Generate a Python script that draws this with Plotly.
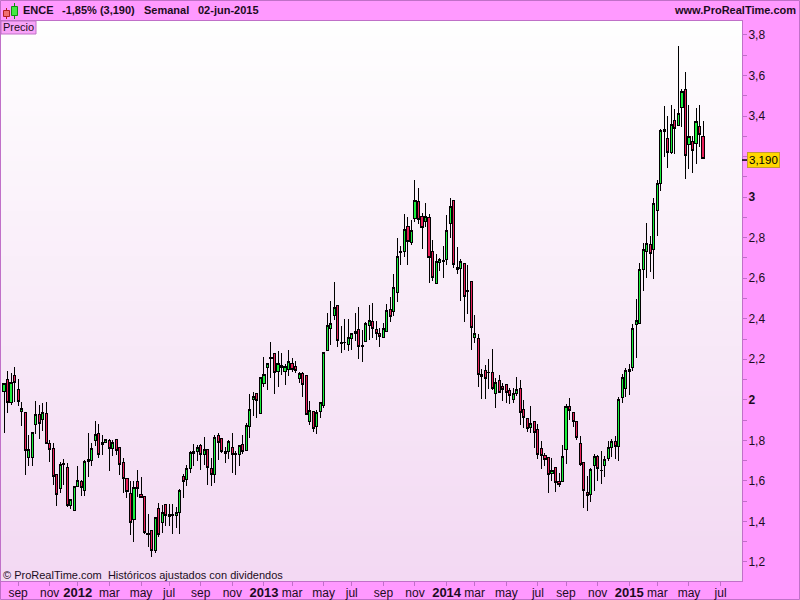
import pandas as pd
import plotly.graph_objects as go

# semanal, un lunes por vela
first_week = "2011-08-08"
n_weeks = 200

opens = [
    2.041, 2.102, 1.986, 2.121, 2.052, 1.942, 1.939, 1.715, 1.715, 1.878,
    1.929, 1.903, 1.934, 1.786, 1.761, 1.633, 1.562, 1.680, 1.667, 1.478,
    1.453, 1.572, 1.597, 1.552, 1.695, 1.699, 1.799, 1.835, 1.779, 1.789,
    1.797, 1.759, 1.802, 1.766, 1.692, 1.613, 1.536, 1.409, 1.598, 1.534,
    1.521, 1.342, 1.356, 1.256, 1.465, 1.394, 1.485, 1.435, 1.434, 1.429,
    1.444, 1.620, 1.608, 1.661, 1.736, 1.744, 1.777, 1.731, 1.756, 1.662,
    1.632, 1.825, 1.807, 1.743, 1.744, 1.764, 1.731, 1.731, 1.780, 1.749,
    1.867, 2.001, 2.032, 1.933, 2.080, 2.158, 2.210, 2.229, 2.139, 2.160,
    2.139, 2.152, 2.180, 2.165, 2.104, 2.131, 2.119, 1.892, 1.943, 1.867,
    1.941, 1.973, 2.242, 2.351, 2.415, 2.466, 2.284, 2.282, 2.272, 2.302,
    2.326, 2.348, 2.269, 2.287, 2.366, 2.387, 2.349, 2.328, 2.307, 2.339,
    2.446, 2.435, 2.529, 2.733, 2.731, 2.856, 2.775, 2.894, 2.979, 2.905,
    2.879, 2.900, 2.733, 2.573, 2.678, 2.688, 2.691, 2.871, 2.984, 2.655,
    2.649, 2.673, 2.540, 2.585, 2.307, 2.303, 2.114, 2.145, 2.137, 2.135,
    2.032, 2.096, 2.066, 2.076, 2.047, 2.000, 2.033, 2.057, 1.954, 1.909,
    1.863, 1.894, 1.855, 1.758, 1.727, 1.717, 1.636, 1.667, 1.598, 1.598,
    1.756, 1.968, 1.939, 1.891, 1.786, 1.692, 1.544, 1.534, 1.676, 1.722,
    1.651, 1.676, 1.710, 1.764, 1.794, 1.769, 2.012, 2.055, 2.139, 2.160,
    2.371, 2.376, 2.644, 2.731, 2.767, 2.743, 2.933, 3.068, 3.335, 3.290,
    3.220, 3.379, 3.353, 3.442, 3.532, 3.259, 3.274, 3.266, 3.348, 3.300,
]
highs = [
    2.082, 2.143, 2.131, 2.161, 2.103, 1.991, 1.941, 1.827, 1.842, 1.993,
    1.975, 1.986, 1.988, 1.802, 1.786, 1.635, 1.695, 1.707, 1.687, 1.508,
    1.576, 1.674, 1.603, 1.704, 1.835, 1.786, 1.896, 1.879, 1.827, 1.807,
    1.809, 1.802, 1.804, 1.768, 1.715, 1.615, 1.597, 1.597, 1.654, 1.618,
    1.523, 1.435, 1.358, 1.424, 1.493, 1.481, 1.487, 1.485, 1.485, 1.470,
    1.559, 1.633, 1.679, 1.745, 1.782, 1.777, 1.782, 1.815, 1.758, 1.711,
    1.826, 1.835, 1.810, 1.766, 1.802, 1.835, 1.747, 1.777, 1.826, 1.887,
    2.027, 2.040, 2.034, 2.113, 2.210, 2.183, 2.284, 2.231, 2.241, 2.229,
    2.177, 2.246, 2.205, 2.191, 2.139, 2.135, 2.121, 1.994, 1.945, 1.950,
    1.991, 2.236, 2.427, 2.489, 2.580, 2.468, 2.364, 2.397, 2.397, 2.330,
    2.427, 2.460, 2.344, 2.386, 2.468, 2.476, 2.389, 2.353, 2.377, 2.471,
    2.509, 2.621, 2.797, 2.759, 2.915, 2.904, 2.887, 3.085, 3.044, 2.920,
    2.969, 2.915, 2.789, 2.719, 2.698, 2.759, 2.912, 2.994, 2.986, 2.752,
    2.693, 2.675, 2.665, 2.587, 2.418, 2.325, 2.152, 2.172, 2.201, 2.251,
    2.106, 2.122, 2.081, 2.078, 2.057, 2.057, 2.111, 2.098, 1.998, 1.911,
    1.967, 1.896, 1.879, 1.797, 1.736, 1.719, 1.712, 1.669, 1.638, 1.778,
    1.980, 2.009, 1.942, 1.896, 1.822, 1.695, 1.625, 1.662, 1.731, 1.728,
    1.748, 1.723, 1.797, 1.805, 1.822, 2.015, 2.127, 2.155, 2.177, 2.374,
    2.497, 2.673, 2.772, 2.871, 2.808, 2.994, 3.085, 3.335, 3.450, 3.401,
    3.455, 3.433, 3.748, 3.532, 3.616, 3.455, 3.302, 3.438, 3.455, 3.378,
]
lows = [
    1.838, 1.937, 1.975, 1.991, 1.967, 1.873, 1.629, 1.671, 1.671, 1.832,
    1.807, 1.848, 1.782, 1.695, 1.580, 1.478, 1.539, 1.580, 1.473, 1.462,
    1.451, 1.569, 1.523, 1.523, 1.621, 1.671, 1.773, 1.715, 1.728, 1.786,
    1.649, 1.723, 1.728, 1.629, 1.539, 1.514, 1.333, 1.300, 1.519, 1.515,
    1.338, 1.276, 1.226, 1.243, 1.325, 1.342, 1.375, 1.375, 1.338, 1.366,
    1.338, 1.518, 1.575, 1.638, 1.673, 1.700, 1.654, 1.678, 1.580, 1.575,
    1.588, 1.703, 1.736, 1.687, 1.708, 1.637, 1.629, 1.675, 1.731, 1.747,
    1.813, 1.922, 1.908, 1.931, 2.065, 2.048, 2.106, 2.029, 2.065, 2.122,
    2.073, 2.117, 2.139, 2.131, 2.081, 2.015, 1.923, 1.876, 1.843, 1.831,
    1.912, 1.961, 2.240, 2.270, 2.394, 2.262, 2.233, 2.246, 2.242, 2.246,
    2.292, 2.200, 2.186, 2.285, 2.295, 2.303, 2.295, 2.262, 2.303, 2.333,
    2.385, 2.413, 2.484, 2.665, 2.706, 2.665, 2.764, 2.879, 2.868, 2.744,
    2.854, 2.575, 2.588, 2.571, 2.637, 2.599, 2.665, 2.800, 2.652, 2.621,
    2.489, 2.385, 2.423, 2.246, 2.279, 2.065, 2.004, 2.004, 2.053, 2.048,
    1.961, 2.033, 1.996, 1.986, 1.979, 1.986, 2.021, 1.876, 1.860, 1.843,
    1.838, 1.764, 1.707, 1.661, 1.674, 1.542, 1.597, 1.547, 1.569, 1.596,
    1.684, 1.901, 1.868, 1.802, 1.671, 1.468, 1.453, 1.498, 1.552, 1.597,
    1.585, 1.621, 1.700, 1.720, 1.707, 1.699, 1.986, 2.015, 2.024, 2.144,
    2.208, 2.374, 2.539, 2.603, 2.632, 2.596, 2.810, 3.032, 3.200, 3.146,
    3.211, 3.213, 3.351, 3.348, 3.091, 3.141, 3.118, 3.164, 3.246, 3.188,
]
closes = [
    2.079, 1.986, 2.087, 2.087, 1.991, 1.958, 1.750, 1.753, 1.840, 1.926,
    1.883, 1.939, 1.786, 1.756, 1.621, 1.532, 1.682, 1.687, 1.478, 1.506,
    1.574, 1.603, 1.565, 1.697, 1.707, 1.758, 1.830, 1.728, 1.791, 1.805,
    1.761, 1.791, 1.750, 1.680, 1.611, 1.547, 1.394, 1.569, 1.564, 1.519,
    1.343, 1.337, 1.256, 1.421, 1.333, 1.444, 1.427, 1.424, 1.431, 1.444,
    1.551, 1.597, 1.662, 1.741, 1.744, 1.764, 1.731, 1.756, 1.665, 1.632,
    1.815, 1.790, 1.743, 1.736, 1.794, 1.731, 1.733, 1.775, 1.744, 1.871,
    1.953, 2.014, 1.996, 2.111, 2.126, 2.180, 2.203, 2.136, 2.180, 2.170,
    2.163, 2.188, 2.150, 2.144, 2.131, 2.075, 1.928, 1.948, 1.859, 1.936,
    1.987, 2.234, 2.367, 2.377, 2.453, 2.292, 2.279, 2.285, 2.307, 2.328,
    2.338, 2.262, 2.262, 2.377, 2.392, 2.351, 2.326, 2.312, 2.353, 2.441,
    2.410, 2.555, 2.708, 2.726, 2.841, 2.780, 2.836, 2.984, 2.889, 2.849,
    2.904, 2.701, 2.603, 2.683, 2.690, 2.683, 2.836, 2.955, 2.667, 2.644,
    2.683, 2.509, 2.535, 2.356, 2.328, 2.124, 2.126, 2.104, 2.134, 2.055,
    2.086, 2.035, 2.050, 2.035, 2.020, 2.033, 2.052, 1.937, 1.912, 1.858,
    1.884, 1.838, 1.730, 1.727, 1.707, 1.631, 1.652, 1.592, 1.582, 1.722,
    1.968, 1.949, 1.893, 1.814, 1.680, 1.552, 1.527, 1.657, 1.722, 1.662,
    1.653, 1.707, 1.766, 1.794, 1.769, 2.002, 2.111, 2.145, 2.150, 2.353,
    2.392, 2.644, 2.743, 2.772, 2.723, 2.971, 3.068, 3.327, 3.323, 3.220,
    3.359, 3.340, 3.414, 3.522, 3.205, 3.299, 3.231, 3.374, 3.308, 3.190,
]
last_mark = 3.183

price_ticks = [1.2, 1.3, 1.4, 1.5, 1.6, 1.7, 1.8, 1.9, 2.0, 2.1, 2.2, 2.3, 2.4, 2.5,
               2.6, 2.7, 2.8, 2.9, 3.0, 3.1, 3.2, 3.3, 3.4, 3.5, 3.6, 3.7, 3.8]
price_labels = ["1,2", "", "1,4", "", "1,6", "", "1,8", "", "<b>2</b>", "", "2,2", "", "2,4", "",
                "2,6", "", "2,8", "", "<b>3</b>", "", "", "", "3,4", "", "3,6", "", "3,8"]
month_ticks = ["2011-09-05", "2011-11-07", "2012-01-02", "2012-03-05", "2012-05-07", "2012-07-02",
               "2012-09-03", "2012-11-05", "2013-01-07", "2013-03-04", "2013-05-06", "2013-07-01",
               "2013-09-02", "2013-11-04", "2014-01-06", "2014-03-03", "2014-05-05", "2014-07-07",
               "2014-09-01", "2014-11-03", "2015-01-05", "2015-03-02", "2015-05-04", "2015-07-06"]
month_labels = ["sep", "nov", "2012", "mar", "may", "jul",
                "sep", "nov", "2013", "mar", "may", "jul",
                "sep", "nov", "2014", "mar", "may", "jul",
                "sep", "nov", "2015", "mar", "may", "jul"]

PINK = "#ff99ff"
BORDER = "#c070c8"
INK = "#1c0c22"
FONT = "Liberation Sans"

# colocación del marco en píxeles de la ventana
PLOT_L, PLOT_R, PLOT_T, PLOT_B = 1, 742, 21, 581


def px_x(x):
    return (x - PLOT_L) / (PLOT_R - PLOT_L)


def px_y(y):
    return (PLOT_B - y) / (PLOT_B - PLOT_T)


def rect(x0, y0, x1, y1, fill=None, line=None, layer="above", width=1):
    return dict(type="rect", xref="paper", yref="paper", x0=px_x(x0), x1=px_x(x1), y0=px_y(y0), y1=px_y(y1),
                fillcolor=fill, line=dict(color=line, width=width if line else 0), layer=layer)


def label(x, y, text, size=11, anchor="left", bold=False, color=INK):
    return dict(xref="paper", yref="paper", x=px_x(x), y=px_y(y), text=f"<b>{text}</b>" if bold else text,
                xanchor=anchor, yanchor="middle", showarrow=False, font=dict(family=FONT, size=size, color=color))


weeks = [str(d)[:10] for d in pd.date_range(first_week, periods=n_weeks, freq="7D")]

fig = go.Figure(go.Candlestick(
    x=weeks, open=opens, high=highs, low=lows, close=closes,
    increasing=dict(line=dict(color="#000000", width=1), fillcolor="#19f03c"),
    decreasing=dict(line=dict(color="#000000", width=1), fillcolor="#e8205a"),
    whiskerwidth=0, hoverinfo="skip", showlegend=False,
))

# degradado de fondo: blanco arriba, malva pálido abajo
shapes = []
n_bands = 112
for b in range(n_bands):
    t = b / (n_bands - 1)
    col = "rgb(%d,%d,%d)" % (255 - 12 * t, 255 - 38 * t, 255 - 12 * t)
    y0 = PLOT_T + (PLOT_B - PLOT_T) * b / n_bands
    y1 = PLOT_T + (PLOT_B - PLOT_T) * (b + 1) / n_bands + 0.5
    shapes.append(rect(PLOT_L, y0, PLOT_R, min(y1, PLOT_B), fill=col, layer="below"))

shapes += [
    rect(0.5, 0.5, 799.5, 599.5, line=BORDER, layer="below", width=1),
    rect(1, 21, 36, 34, fill="#f8a4f8", line=BORDER),
    # icono de velas
    dict(type="line", xref="paper", yref="paper", x0=px_x(6.5), x1=px_x(6.5), y0=px_y(8), y1=px_y(19),
         line=dict(color="#b02020", width=1)),
    rect(3.5, 10.5, 9.5, 16.5, fill="#f07070", line="#b02020"),
    dict(type="line", xref="paper", yref="paper", x0=px_x(14.5), x1=px_x(14.5), y0=px_y(3), y1=px_y(19),
         line=dict(color="#109010", width=1)),
    rect(11.5, 6.5, 17.5, 15.5, fill="#44e844", line="#109010"),
    # marca del último precio en el eje
    dict(type="line", xref="paper", yref="y", x0=1, x1=px_x(747), y0=last_mark, y1=last_mark,
         line=dict(color="#000000", width=1.5)),
]

annotations = [
    label(21, 10, "ENCE", bold=True),
    label(60, 10, "-1,85% (3,190)", bold=True),
    label(142, 10, "Semanal", bold=True),
    label(196, 10, "02-jun-2015", bold=True),
    label(798, 10, "www.ProRealTime.com", anchor="right", bold=True),
    label(1, 27, "Precio"),
    label(1, 575, "© ProRealTime.com  Históricos ajustados con dividendos"),
    dict(xref="paper", yref="y", x=px_x(747.5), y=last_mark, text="3,190", xanchor="left", yanchor="middle",
         showarrow=False, bgcolor="#ffd700", bordercolor="#c89a30", borderwidth=1, borderpad=1,
         font=dict(family=FONT, size=11.5, color="#000000")),
]

year_labels = [f'<b style="font-size:13px">{m}</b>' if m.isdigit() else m for m in month_labels]

fig.update_layout(
    width=800, height=600, autosize=False,
    margin=dict(l=PLOT_L, r=800 - PLOT_R, t=PLOT_T, b=600 - PLOT_B, pad=0),
    paper_bgcolor=PINK, plot_bgcolor="rgba(0,0,0,0)",
    boxgap=0.4, boxgroupgap=0,
    showlegend=False,
    shapes=shapes, annotations=annotations,
    font=dict(family=FONT, size=12, color=INK),
    xaxis=dict(
        type="date", range=["2011-08-02", "2015-08-17 16:00"], rangeslider=dict(visible=False),
        tickmode="array", tickvals=month_ticks, ticktext=year_labels, tickangle=0, automargin=False,
        ticks="outside", ticklen=4, tickcolor=BORDER, showgrid=False, zeroline=False,
        showline=True, linecolor=BORDER, linewidth=1, mirror=True, ticklabelstandoff=-3,
    ),
    yaxis=dict(
        side="right", range=[1.106, 3.869], tickmode="array", tickvals=price_ticks, ticktext=price_labels,
        ticks="outside", ticklen=4, tickcolor=BORDER, showgrid=False, zeroline=False, automargin=False,
        showline=True, linecolor=BORDER, linewidth=1, mirror=True, ticklabelstandoff=-1,
    ),
)

# sin margen de página, y velas con bordes nítidos como en el original
page_js = """
document.body.style.margin = '0';
document.body.style.overflow = 'hidden';
document.querySelectorAll('.boxlayer path').forEach(function (p) { p.style.shapeRendering = 'crispEdges'; });
"""
fig.write_html("out.html", config=dict(displayModeBar=False), post_script=page_js)
